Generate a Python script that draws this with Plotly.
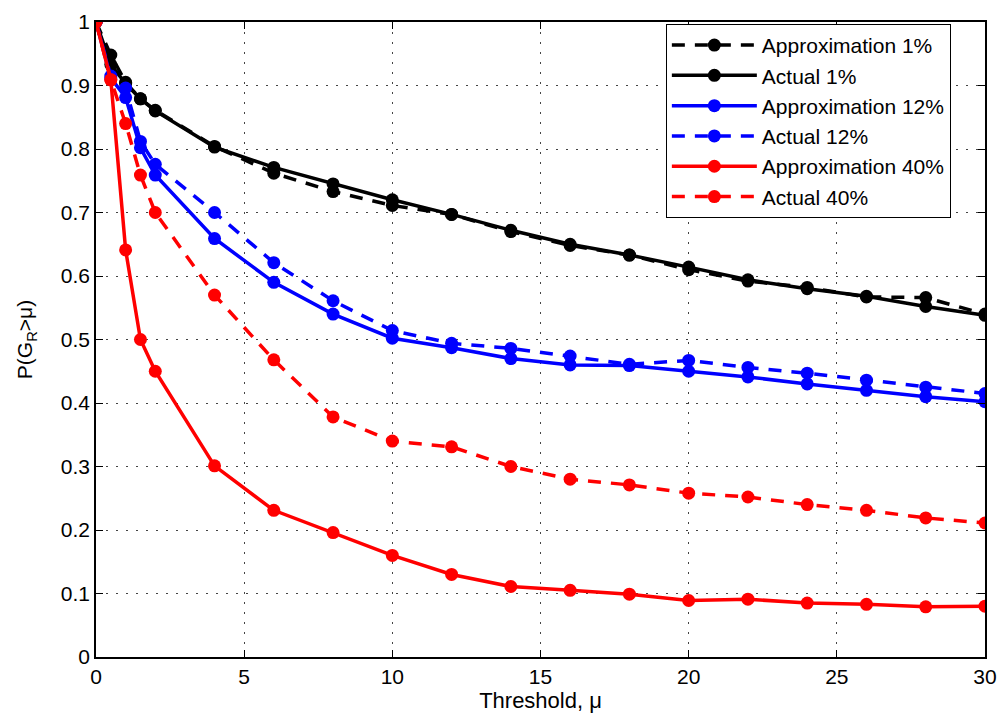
import plotly.graph_objects as go

# Threshold values (mu)
thresholds = [0, 0.5, 1, 1.5, 2, 4, 6, 8, 10, 12, 14, 16, 18, 20, 22, 24, 26, 28, 30]

# P(G_R > mu) for each case
approx_1 = [1.0, 0.948, 0.905, 0.879, 0.861, 0.804, 0.762, 0.733, 0.711, 0.697, 0.670, 0.648, 0.633, 0.610, 0.592, 0.582, 0.567, 0.566, 0.540]
actual_1 = [1.0, 0.933, 0.903, 0.879, 0.860, 0.803, 0.771, 0.745, 0.720, 0.697, 0.672, 0.650, 0.633, 0.614, 0.594, 0.580, 0.568, 0.552, 0.538]
approx_12 = [1.0, 0.912, 0.881, 0.802, 0.759, 0.659, 0.590, 0.540, 0.502, 0.487, 0.470, 0.460, 0.459, 0.450, 0.441, 0.430, 0.420, 0.410, 0.402]
actual_12 = [1.0, 0.915, 0.896, 0.812, 0.776, 0.700, 0.621, 0.561, 0.514, 0.494, 0.486, 0.474, 0.461, 0.467, 0.456, 0.447, 0.436, 0.425, 0.415]
approx_40 = [1.0, 0.909, 0.641, 0.500, 0.450, 0.301, 0.231, 0.196, 0.160, 0.130, 0.111, 0.105, 0.099, 0.089, 0.091, 0.085, 0.083, 0.079, 0.080]
actual_40 = [1.0, 0.909, 0.840, 0.759, 0.700, 0.570, 0.468, 0.378, 0.340, 0.331, 0.300, 0.280, 0.271, 0.258, 0.252, 0.240, 0.231, 0.219, 0.211]

series = [
    ("Approximation 1%", approx_1, "black", "dash"),
    ("Actual 1%", actual_1, "black", "solid"),
    ("Approximation 12%", approx_12, "blue", "solid"),
    ("Actual 12%", actual_12, "blue", "dash"),
    ("Approximation 40%", approx_40, "red", "solid"),
    ("Actual 40%", actual_40, "red", "dash"),
]

FONT = "Liberation Sans, Arial, sans-serif"

fig = go.Figure()
for name, vals, color, dash in series:
    fig.add_trace(go.Scatter(
        x=thresholds, y=vals, name=name, mode="lines+markers",
        line=dict(color=color, width=3.5, dash="13px,10px" if dash == "dash" else "solid"),
        marker=dict(color=color, size=13, symbol="circle"),
    ))

axis_common = dict(
    showline=True, linecolor="black", linewidth=1.5, mirror="ticks",
    ticks="inside", ticklen=7, tickcolor="black", tickwidth=1,
    showgrid=True, gridcolor="#444444", griddash="2px,8px", gridwidth=1,
    zeroline=False, tickfont=dict(family=FONT, size=21, color="black"),
)

fig.update_xaxes(range=[0, 30], tickvals=[0, 5, 10, 15, 20, 25, 30],
                 title=dict(text="Threshold, μ", font=dict(family=FONT, size=22, color="black"), standoff=6),
                 **axis_common)
fig.update_yaxes(range=[0, 1], tickvals=[i / 10 for i in range(11)],
                 ticktext=["0", "0.1", "0.2", "0.3", "0.4", "0.5", "0.6", "0.7", "0.8", "0.9", "1"],
                 title=dict(text="P(G<sub>R</sub>>μ)", font=dict(family=FONT, size=21, color="black"), standoff=22),
                 **axis_common)

fig.update_layout(
    width=1007, height=723,
    margin=dict(l=96, r=17, t=10, b=66),
    paper_bgcolor="white", plot_bgcolor="white",
    font=dict(family=FONT, size=21, color="black"),
    showlegend=True,
    legend=dict(
        x=0.641, y=0.997, xanchor="left", yanchor="top",
        bgcolor="white", bordercolor="black", borderwidth=1,
        font=dict(family=FONT, size=21, color="black"),
        itemwidth=85, tracegroupgap=0,
    ),
)

fig.write_html("out.html")
